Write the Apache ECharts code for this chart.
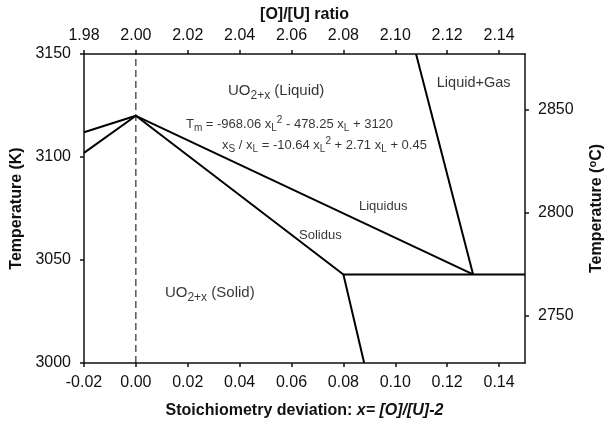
<!DOCTYPE html>
<html>
<head>
<meta charset="utf-8">
<script src="https://cdn.jsdelivr.net/npm/echarts@6/dist/echarts.min.js"></script>
<style>
  html, body { margin: 0; padding: 0; background: #fff; }
  #main { width: 608px; height: 428px; }
</style>
</head>
<body>
<div id="main"></div>
<script>
// UO2+x melting diagram, x = [O]/[U] - 2, temperature in K

const liquidus = [[0, 3120], [0.13, 3043]];
const solidus = [[0, 3120], [0.08, 3043], [0.088, 3000]];
const hypoUpper = [[-0.02, 3112], [0, 3120]];
const hypoLower = [[-0.02, 3102], [0, 3120]];
const gasBoundary = [[0.108, 3150], [0.13, 3043]];
const flatLine = [[0.08, 3043], [0.15, 3043]];
const stoichLine = [[0, 3000], [0, 3150]];

const xTicks = [-0.02, 0, 0.02, 0.04, 0.06, 0.08, 0.10, 0.12, 0.14];
const ratioTicks = [1.98, 2.00, 2.02, 2.04, 2.06, 2.08, 2.10, 2.12, 2.14];
const celsiusTicks = [2750, 2800, 2850];

// text placed at data coordinates [x, T]
const notes = [
  { at: [0.0355, 3132], text: '{m|UO}{sb|2+x}{m| (Liquid)}' },
  { at: [0.0112, 3034], text: '{m|UO}{sb|2+x}{m| (Solid)}' },
  { at: [0.0193, 3116], text: '{e|T}{es|m}{e| = -968.06 x}{es|L}{ep|2}{e| - 478.25 x}{es|L}{e| + 3120}' },
  { at: [0.0332, 3105.8], text: '{e|x}{es|S}{e| / x}{es|L}{e| = -10.64 x}{es|L}{ep|2}{e| + 2.71 x}{es|L}{e| + 0.45}' },
  { at: [0.086, 3076.2], text: '{s|Liquidus}' },
  { at: [0.0629, 3062.1], text: '{s|Solidus}' },
  { at: [0.116, 3135.9], text: '{g|Liquid+Gas}' }
];

const FONT = '"Liberation Sans", Arial, sans-serif';
const INK = '#111';

function fmt2(v) {
  return Math.abs(v) < 1e-9 ? '0.00' : v.toFixed(2);
}

function plain(v) {
  return String(Math.round(v));
}

function lineSeries(data, extra) {
  return Object.assign({
    type: 'line',
    data: data,
    symbol: 'none',
    silent: true,
    lineStyle: { color: '#000', width: 2 }
  }, extra || {});
}

function initOption() {
  const axisLine = { show: true, onZero: false, lineStyle: { color: INK, width: 1.5 } };
  const tick = { show: true, length: 4, lineStyle: { color: INK, width: 1.5 } };
  const label = { color: INK, fontSize: 16, fontFamily: FONT };
  const nameStyle = { color: INK, fontSize: 16, fontWeight: 'bold', fontFamily: FONT };
  const txt = { fontFamily: FONT, color: '#000' };

  const myChart = echarts.init(document.getElementById('main'));
  myChart.setOption({
    animation: false,
    backgroundColor: '#fff',
    grid: { left: 84, right: 83, top: 54, bottom: 65, outerBoundsMode: 'none' },
    xAxis: [
      {
        type: 'value', position: 'bottom', min: -0.02, max: 0.15,
        axisLine: axisLine,
        axisTick: Object.assign({ customValues: xTicks }, tick),
        axisLabel: Object.assign({ customValues: xTicks, formatter: fmt2, margin: 12 }, label),
        splitLine: { show: false },
        name: '{b|Stoichiometry deviation: }{bi|x= [O]/[U]-2}',
        nameLocation: 'middle', nameGap: 40,
        nameTextStyle: {
          rich: {
            b: nameStyle,
            bi: Object.assign({}, nameStyle, { fontStyle: 'italic' })
          }
        }
      },
      {
        type: 'value', position: 'top', min: 1.98, max: 2.15,
        axisLine: axisLine,
        axisTick: Object.assign({ customValues: ratioTicks }, tick),
        axisLabel: Object.assign({ customValues: ratioTicks, formatter: fmt2, margin: 10 }, label),
        splitLine: { show: false },
        name: '[O]/[U] ratio',
        nameLocation: 'middle', nameGap: 31,
        nameTextStyle: nameStyle
      }
    ],
    yAxis: [
      {
        type: 'value', position: 'left', min: 3000, max: 3150, interval: 50,
        axisLine: axisLine,
        axisTick: tick,
        axisLabel: Object.assign({ margin: 13, formatter: plain }, label),
        splitLine: { show: false },
        name: 'Temperature (K)',
        nameLocation: 'middle', nameRotate: 90, nameGap: 58,
        nameTextStyle: nameStyle
      },
      {
        type: 'value', position: 'right', min: 3000 - 273.15, max: 3150 - 273.15,
        axisLine: axisLine,
        axisTick: Object.assign({ customValues: celsiusTicks }, tick),
        axisLabel: Object.assign({ customValues: celsiusTicks, margin: 13, formatter: plain }, label),
        splitLine: { show: false },
        name: '{b|Temperature (}{sp|o}{b|C)}',
        nameLocation: 'middle', nameRotate: 90, nameGap: 62,
        nameTextStyle: {
          rich: {
            b: Object.assign({ lineHeight: 20 }, nameStyle),
            sp: Object.assign({}, nameStyle, { fontSize: 11, lineHeight: 11, verticalAlign: 'top' })
          }
        }
      }
    ],
    series: [
      lineSeries(stoichLine, { lineStyle: { color: '#000', width: 1, type: [7, 4] } }),
      lineSeries(hypoUpper),
      lineSeries(hypoLower),
      lineSeries(liquidus),
      lineSeries(solidus),
      lineSeries(flatLine),
      lineSeries(gasBoundary),
      {
        type: 'scatter',
        symbolSize: 0,
        silent: true,
        data: notes.map(function (n) {
          return { value: n.at, label: { formatter: n.text } };
        }),
        label: {
          show: true,
          position: 'right',
          distance: 0,
          color: '#000',
          fontFamily: FONT,
          rich: {
            m: Object.assign({ fontSize: 15, lineHeight: 22 }, txt),
            sb: Object.assign({ fontSize: 12, lineHeight: 12, verticalAlign: 'bottom' }, txt),
            e: Object.assign({ fontSize: 13, lineHeight: 18 }, txt),
            es: Object.assign({ fontSize: 10, lineHeight: 10, verticalAlign: 'bottom' }, txt),
            ep: Object.assign({ fontSize: 10, lineHeight: 10, verticalAlign: 'top' }, txt),
            s: Object.assign({ fontSize: 13, lineHeight: 18 }, txt),
            g: Object.assign({ fontSize: 14.5, lineHeight: 20 }, txt)
          }
        }
      }
    ]
  });
}

initOption();
</script>
</body>
</html>
